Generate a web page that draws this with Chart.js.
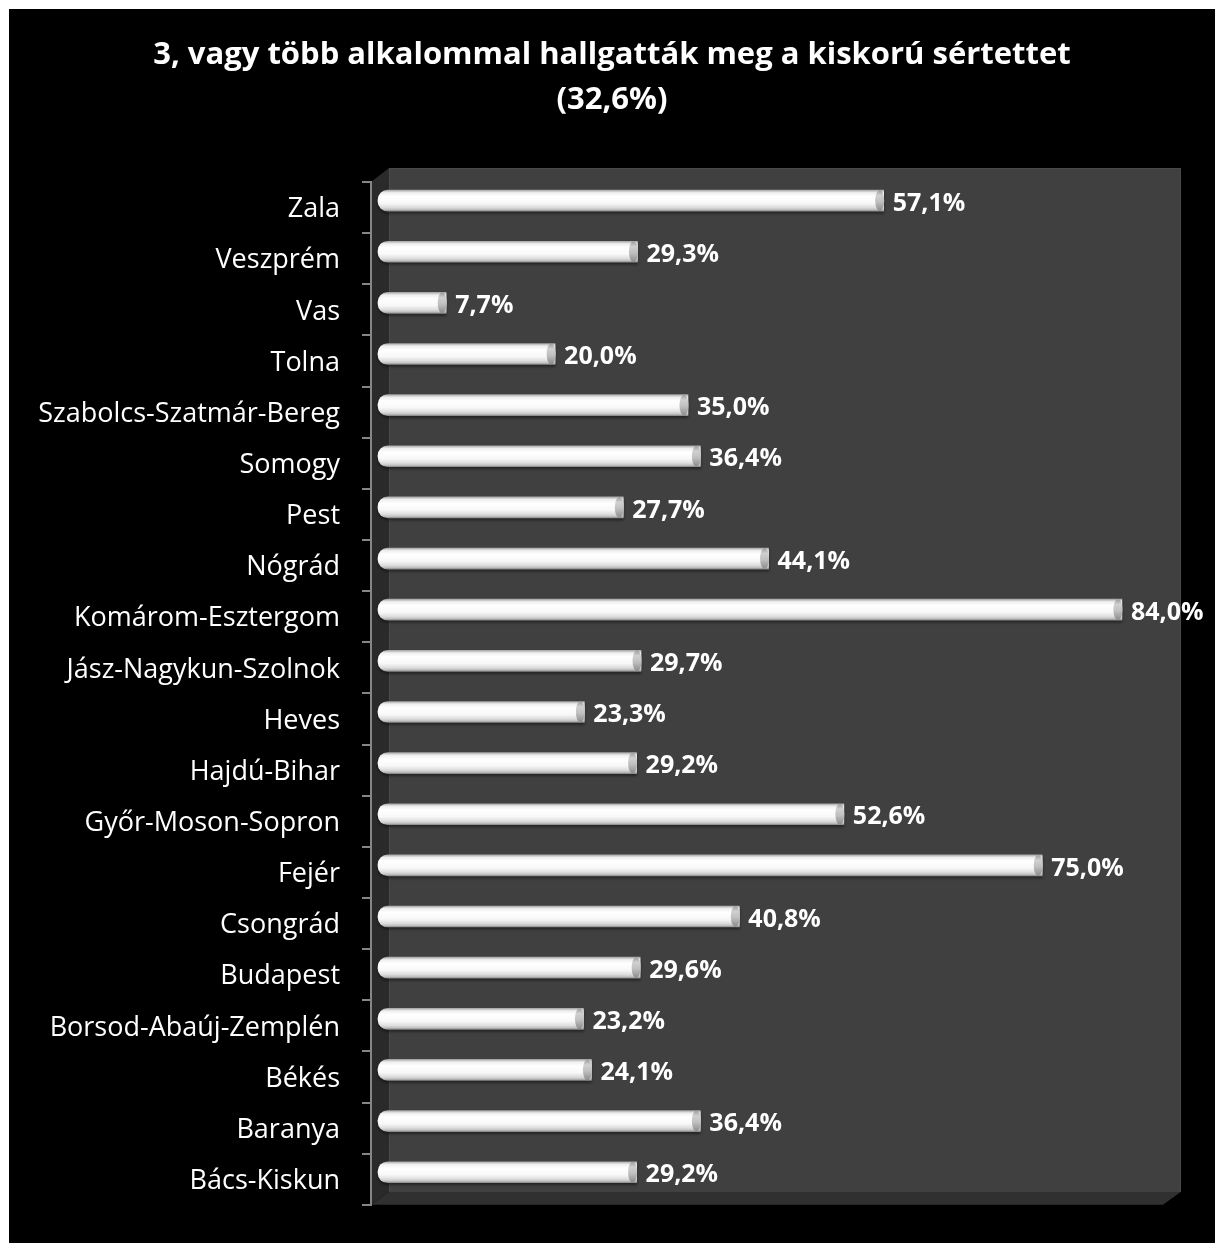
<!DOCTYPE html>
<html>
<head>
<meta charset="utf-8">
<script src="https://cdn.jsdelivr.net/npm/chart.js@4.4.0/dist/chart.umd.min.js"></script>
<style>
  html, body { margin: 0; padding: 0; background: #ffffff; }
  #wrap { width: 1215px; height: 1243px; }
</style>
</head>
<body>
<div id="wrap"><canvas id="c" width="1215" height="1243"></canvas></div>
<script>
const titleLines = ['3, vagy több alkalommal hallgatták meg a kiskorú sértettet', '(32,6%)'];
const categories = ['Zala', 'Veszprém', 'Vas', 'Tolna', 'Szabolcs-Szatmár-Bereg', 'Somogy', 'Pest', 'Nógrád',
  'Komárom-Esztergom', 'Jász-Nagykun-Szolnok', 'Heves', 'Hajdú-Bihar', 'Győr-Moson-Sopron', 'Fejér',
  'Csongrád', 'Budapest', 'Borsod-Abaúj-Zemplén', 'Békés', 'Baranya', 'Bács-Kiskun'];
const values = [57.1, 29.3, 7.7, 20.0, 35.0, 36.4, 27.7, 44.1, 84.0, 29.7, 23.3, 29.2, 52.6, 75.0,
  40.8, 29.6, 23.2, 24.1, 36.4, 29.2];
const xMin = 0;
const xMax = 95.3;

const FONT = '"Open Sans", Lato, sans-serif';
const DEPTH_X = 18, DEPTH_Y = -14;      // 3D wall depth
const BAR_SHIFT_X = 7, BAR_SHIFT_Y = -7; // bars sit mid-depth
const BAR_H = 21;

function fmt(v) { return v.toFixed(1).replace('.', ',') + '%'; }

const bgPlugin = {
  id: 'bg3d',
  beforeDraw(chart) {
    const ctx = chart.ctx;
    const a = chart.chartArea;
    ctx.save();
    ctx.fillStyle = '#ffffff';
    ctx.fillRect(0, 0, chart.width, chart.height);
    ctx.fillStyle = '#000000';
    ctx.fillRect(9, 9, chart.width - 9, chart.height - 9);
    const L = a.left, T = a.top, B = a.bottom;
    const R = a.right - 34; // back wall right edge
    // back wall
    ctx.fillStyle = '#404040';
    ctx.fillRect(L + DEPTH_X, T + DEPTH_Y, R - (L + DEPTH_X), (B + DEPTH_Y + 1) - (T + DEPTH_Y));
    ctx.strokeStyle = '#4a4a4a';
    ctx.lineWidth = 1;
    ctx.strokeRect(L + DEPTH_X + 0.5, T + DEPTH_Y + 0.5, R - (L + DEPTH_X) - 1, (B + DEPTH_Y + 1) - (T + DEPTH_Y) - 1);
    // side wall
    ctx.fillStyle = '#2a2a2a';
    ctx.beginPath();
    ctx.moveTo(L, T);
    ctx.lineTo(L + DEPTH_X, T + DEPTH_Y);
    ctx.lineTo(L + DEPTH_X, B + DEPTH_Y + 1);
    ctx.lineTo(L, B);
    ctx.closePath();
    ctx.fill();
    // floor
    ctx.fillStyle = '#303030';
    ctx.beginPath();
    ctx.moveTo(L, B);
    ctx.lineTo(L + DEPTH_X, B + DEPTH_Y + 1);
    ctx.lineTo(R, B + DEPTH_Y + 1);
    ctx.lineTo(R - DEPTH_X, B);
    ctx.closePath();
    ctx.fill();
    ctx.restore();
  },
  beforeDatasetsDraw(chart) {
    const ctx = chart.ctx;
    ctx.save();
    ctx.translate(BAR_SHIFT_X, BAR_SHIFT_Y);
    ctx.shadowColor = 'rgba(0,0,0,0.45)';
    ctx.shadowBlur = 3;
    ctx.shadowOffsetY = 2;
  },
  afterDatasetsDraw(chart) {
    const ctx = chart.ctx;
    ctx.shadowColor = 'rgba(0,0,0,0)';
    ctx.shadowBlur = 0;
    ctx.shadowOffsetY = 0;
    const meta = chart.getDatasetMeta(0);
    meta.data.forEach((bar, i) => {
      const h = bar.height;
      const y0 = bar.y - h / 2;
      // end cap of the cylinder
      const g = ctx.createLinearGradient(0, y0, 0, y0 + h);
      g.addColorStop(0, '#9a9a9a');
      g.addColorStop(0.25, '#d0d0d0');
      g.addColorStop(0.55, '#c0c0c0');
      g.addColorStop(1, '#8a8a8a');
      ctx.fillStyle = g;
      ctx.beginPath();
      ctx.ellipse(bar.x - 4, bar.y, 4.5, h / 2, 0, 0, Math.PI * 2);
      ctx.fill();
      // data label
      ctx.fillStyle = '#ffffff';
      ctx.font = 'bold 25px ' + FONT;
      ctx.textAlign = 'left';
      ctx.textBaseline = 'middle';
      ctx.fillText(fmt(values[i]), bar.x + 9, bar.y + 3);
    });
    ctx.restore();
  }
};

const ctx = document.getElementById('c').getContext('2d');
new Chart(ctx, {
  type: 'bar',
  data: {
    labels: categories,
    datasets: [{
      data: values,
      barThickness: BAR_H,
      borderSkipped: false,
      borderRadius: { topLeft: 10, bottomLeft: 10, topRight: 0, bottomRight: 0 },
      clip: false,
      backgroundColor: (c) => {
        const chart = c.chart;
        const ys = chart.scales.y;
        if (!ys || c.dataIndex === undefined) return '#f5f5f5';
        const cy = ys.getPixelForValue(c.dataIndex);
        if (!isFinite(cy)) return '#f5f5f5';
        const y0 = cy - BAR_H / 2;
        const g = chart.ctx.createLinearGradient(0, y0, 0, y0 + BAR_H);
        g.addColorStop(0, '#a8a8a8');
        g.addColorStop(0.12, '#eeeeee');
        g.addColorStop(0.3, '#ffffff');
        g.addColorStop(0.62, '#f8f8f8');
        g.addColorStop(0.82, '#dedede');
        g.addColorStop(0.93, '#c0c0c0');
        g.addColorStop(1, '#8a8a8a');
        return g;
      }
    }]
  },
  options: {
    indexAxis: 'y',
    responsive: false,
    animation: false,
    layout: { padding: { left: 9, right: 0, top: 0, bottom: 37 } },
    plugins: {
      legend: { display: false },
      tooltip: { enabled: false },
      title: {
        display: true,
        text: titleLines,
        color: '#ffffff',
        font: { family: FONT, size: 31, weight: 'bold', lineHeight: 1.452 },
        padding: { top: 33, bottom: 59 }
      }
    },
    scales: {
      x: { display: false, min: xMin, max: xMax },
      y: {
        type: 'category',
        position: 'left',
        offset: true,
        grid: {
          offset: true,
          drawOnChartArea: false,
          drawTicks: true,
          tickLength: 9,
          color: '#868686',
          lineWidth: 2
        },
        border: { display: true, color: '#868686', width: 2 },
        ticks: {
          color: '#ffffff',
          autoSkip: false,
          padding: 22,
          labelOffset: 2,
          font: { family: FONT, size: 27 }
        },
        afterFit(scale) { scale.width = 362; }
      }
    }
  },
  plugins: [bgPlugin]
});
</script>
</body>
</html>
